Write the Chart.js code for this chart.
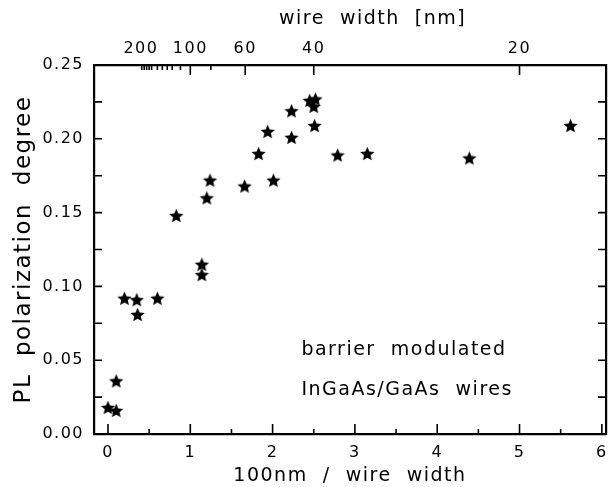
<!DOCTYPE html>
<html>
<head>
<meta charset="utf-8">
<script src="https://cdn.jsdelivr.net/npm/chart.js@4.4.1/dist/chart.umd.min.js"></script>
<style>
  html, body { margin: 0; padding: 0; background: #fff; }
  #wrap { width: 616px; height: 487px; }
</style>
</head>
<body>
<div id="wrap"><canvas id="c" width="616" height="487"></canvas></div>
<script>
// data: x = 100nm / wire width, y = PL polarization degree
const xVals = [0.0, 0.1, 0.1, 0.2, 0.35, 0.36, 0.6, 0.83, 1.14, 1.14, 1.2, 1.24, 1.66, 1.83, 1.94, 2.01,
               2.23, 2.23, 2.45, 2.52, 2.5, 2.51, 2.79, 3.15, 4.39, 5.62];
const yVals = [0.018, 0.016, 0.036, 0.092, 0.091, 0.081, 0.092, 0.148, 0.115, 0.108, 0.160, 0.172, 0.168, 0.190, 0.205, 0.172,
               0.201, 0.219, 0.226, 0.227, 0.222, 0.209, 0.189, 0.190, 0.187, 0.209];

// top axis (wire width in nm), positions in bottom-axis units
const topLabelPos = [0.40, 1.0, 1.667, 2.5, 5.0];
const topLabels = ["200", "100", "60", "40", "20"];
const topMajorPos = [1.0, 1.667, 2.5, 5.0];
const topMinorPos = [0.41, 0.44, 0.47, 0.50, 0.53, 0.60, 0.66, 0.72, 0.78, 0.88, 1.25];

const noteLines = ["barrier  modulated", "InGaAs/GaAs  wires"];

const FONT = "DejaVu Sans";

// filled five point star for the markers
function makeStar(r) {
  const size = Math.ceil(r * 2 + 2);
  const cv = document.createElement("canvas");
  cv.width = size; cv.height = size;
  const g = cv.getContext("2d");
  const cx = size / 2, cy = size / 2 + r * 0.1;
  g.beginPath();
  for (let i = 0; i < 10; i++) {
    const rad = i % 2 === 0 ? r : r * 0.46;
    const a = -Math.PI / 2 + i * Math.PI / 5;
    const px = cx + rad * Math.cos(a), py = cy + rad * Math.sin(a);
    if (i === 0) g.moveTo(px, py); else g.lineTo(px, py);
  }
  g.closePath();
  g.fillStyle = "#000";
  g.fill();
  return cv;
}
const star = makeStar(7.5);

// the original lettering is wide, spread it a little
const spacingPlugin = {
  id: "spacing",
  beforeDraw(chart) { chart.ctx.letterSpacing = "1.5px"; }
};

// inward ticks on all sides + the note text
const ticksPlugin = {
  id: "inTicks",
  afterDraw(chart) {
    const ctx = chart.ctx;
    const a = chart.chartArea;
    const x = chart.scales.x, y = chart.scales.y;
    ctx.save();
    ctx.strokeStyle = "#000";
    ctx.lineWidth = 1.6;
    ctx.beginPath();
    // bottom
    for (let v = 0; v <= 6; v += 0.5) {
      const px = x.getPixelForValue(v);
      const len = Number.isInteger(v) ? 10 : 5;
      ctx.moveTo(px, a.bottom); ctx.lineTo(px, a.bottom - len);
    }
    // left and right
    for (let k = 1; k < 10; k++) {
      const py = y.getPixelForValue(k * 0.025);
      ctx.moveTo(a.left, py); ctx.lineTo(a.left + 8, py);
      ctx.moveTo(a.right, py); ctx.lineTo(a.right - 8, py);
    }
    // top
    topMajorPos.forEach(v => {
      const px = x.getPixelForValue(v);
      ctx.moveTo(px, a.top); ctx.lineTo(px, a.top + 10);
    });
    topMinorPos.forEach(v => {
      const px = x.getPixelForValue(v);
      ctx.moveTo(px, a.top); ctx.lineTo(px, a.top + 5);
    });
    ctx.stroke();

    ctx.fillStyle = "#000";
    ctx.font = "19px '" + FONT + "'";
    ctx.textAlign = "left";
    ctx.textBaseline = "middle";
    const tx = x.getPixelForValue(2.35);
    ctx.fillText(noteLines[0], tx, y.getPixelForValue(0.057));
    ctx.fillText(noteLines[1], tx, y.getPixelForValue(0.030));
    ctx.restore();
  }
};

const frame = { display: true, color: "#000", width: 2.2 };
const tickFont = { family: FONT, size: 16 };

new Chart(document.getElementById("c"), {
  type: "scatter",
  data: {
    datasets: [{
      data: xVals.map((v, i) => ({ x: v, y: yVals[i] })),
      pointStyle: star,
      pointRadius: 8,
      pointHoverRadius: 8
    }]
  },
  options: {
    responsive: false,
    animation: false,
    events: [],
    layout: { padding: 0 },
    plugins: { legend: { display: false }, tooltip: { enabled: false } },
    scales: {
      x: {
        type: "linear", position: "bottom", min: -0.17, max: 6.05,
        afterBuildTicks: s => { s.ticks = [0, 1, 2, 3, 4, 5, 6].map(v => ({ value: v })); },
        afterFit: s => { s.height = 53; },
        grid: { display: false, drawTicks: false },
        border: frame,
        ticks: { color: "#000", font: tickFont, padding: 9, maxRotation: 0, autoSkip: false },
        title: { display: true, text: "100nm  /  wire  width", color: "#000", font: { family: FONT, size: 19 }, padding: 0 }
      },
      x2: {
        type: "linear", position: "top", min: -0.17, max: 6.05,
        afterBuildTicks: s => { s.ticks = topLabelPos.map(v => ({ value: v })); },
        afterFit: s => { s.height = 65; },
        grid: { display: false, drawTicks: false },
        border: frame,
        ticks: {
          color: "#000", font: tickFont, padding: 7, maxRotation: 0, autoSkip: false,
          callback: (v, i) => topLabels[i]
        },
        // leading blanks push the title right, as in the original
        title: { display: true, text: "      wire  width  [nm]", color: "#000", font: { family: FONT, size: 19 }, padding: { top: 8, bottom: 2 } }
      },
      y: {
        type: "linear", position: "left", min: 0, max: 0.25,
        afterBuildTicks: s => { s.ticks = [0, 0.05, 0.1, 0.15, 0.2, 0.25].map(v => ({ value: v })); },
        afterFit: s => { s.width = 94; },
        grid: { display: false, drawTicks: false },
        border: frame,
        ticks: { color: "#000", font: tickFont, padding: 10, callback: v => v.toFixed(2) },
        title: { display: true, text: "PL  polarization  degree", color: "#000", font: { family: FONT, size: 23 }, padding: { top: 10, bottom: 0 } }
      },
      y2: {
        type: "linear", position: "right", min: 0, max: 0.25,
        afterFit: s => { s.width = 9; },
        grid: { display: false, drawTicks: false },
        border: frame,
        ticks: { display: false }
      }
    }
  },
  plugins: [spacingPlugin, ticksPlugin]
});
</script>
</body>
</html>
